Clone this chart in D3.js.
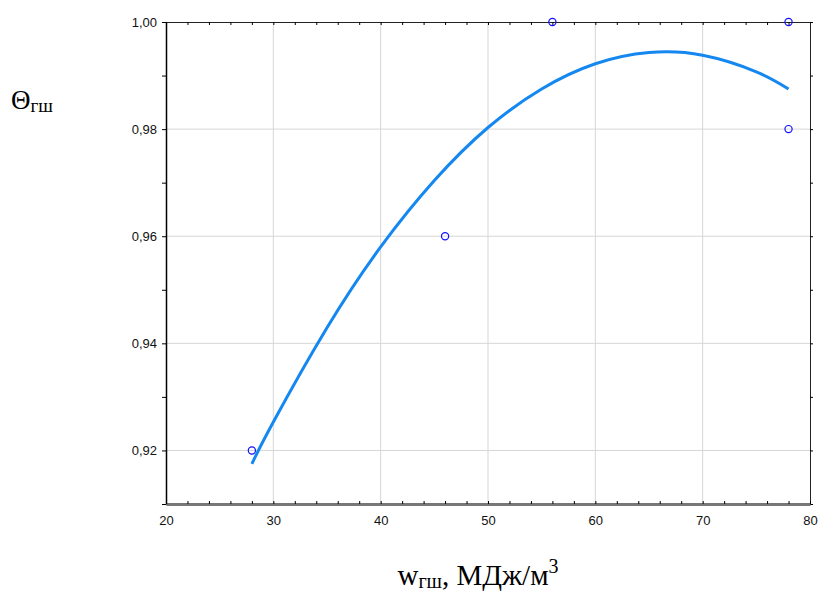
<!DOCTYPE html>
<html>
<head>
<meta charset="utf-8">
<script src="https://cdn.jsdelivr.net/npm/d3@7"></script>
<style>
  body { margin: 0; background: #fff; }
  .tick text { font-family: "Liberation Sans", Arial, sans-serif; font-size: 13px; fill: #111; }
  .title { font-family: "Liberation Serif", "Times New Roman", serif; fill: #000; }
</style>
</head>
<body>
<svg id="chart" width="818" height="592"></svg>
<script>
// observed points
const pointX = [28, 46, 56, 78, 78];
const pointY = [0.92, 0.96, 1.00, 1.00, 0.98];

// fitted curve
const curveX = [28, 30, 35, 40, 45, 50, 55, 60, 65, 70, 75, 78];
const curveY = [0.9175, 0.9253, 0.9429, 0.9580, 0.9704, 0.9803, 0.9875, 0.9922, 0.9943, 0.9938, 0.9907, 0.9875];

const xTicks = [20, 30, 40, 50, 60, 70, 80];
const yTicks = [0.92, 0.94, 0.96, 0.98, 1.00];

const margin = {left: 166, right: 8, top: 22, bottom: 88};
const width = 818, height = 592;

let svg = d3.select("#chart");

let x = d3.scaleLinear().domain([20, 80]).range([margin.left, width - margin.right]);
let y = d3.scaleLinear().domain([0.91, 1.00]).range([height - margin.bottom, margin.top]);

const fmt = d => d3.format(".2f")(d).replace(".", ",");

// gridlines
let grid = svg.append("g");
grid.selectAll(".gx")
    .data(xTicks.slice(1, -1))
    .join("line")
    .attr("x1", d => x(d)).attr("x2", d => x(d))
    .attr("y1", y(0.91)).attr("y2", y(1.00))
    .attr("stroke", "#d6d6d6").attr("stroke-width", 1);
grid.selectAll(".gy")
    .data(yTicks.slice(0, -1))
    .join("line")
    .attr("x1", x(20)).attr("x2", x(80))
    .attr("y1", d => y(d)).attr("y2", d => y(d))
    .attr("stroke", "#d6d6d6").attr("stroke-width", 1);

// minor tick values
let xMinor = d3.range(20, 80.1, 2);
let yMinor = d3.range(0.91, 1.001, 0.01);

// top edge, ticks pointing in
svg.append("g")
    .attr("transform", `translate(0,${y(1.00)})`)
    .call(d3.axisBottom(x).tickValues(xMinor).tickSize(3).tickFormat(""))
    .call(g => g.select(".domain").attr("stroke", "#222"));

// right edge, ticks pointing out
svg.append("g")
    .attr("transform", `translate(${x(80)},0)`)
    .call(d3.axisRight(y).tickValues(yMinor).tickSize(3).tickFormat(""))
    .call(g => g.select(".domain").attr("stroke", "#222"));

// bottom axis, ticks pointing in
svg.append("g")
    .attr("transform", `translate(0,${y(0.91)})`)
    .call(d3.axisTop(x).tickValues(xMinor).tickSize(3).tickSizeOuter(0).tickFormat(""))
    .call(g => g.select(".domain").attr("stroke", "#777").attr("stroke-width", 3));
svg.append("g")
    .attr("transform", `translate(0,${y(0.91)})`)
    .call(d3.axisBottom(x).tickValues(xTicks).tickSize(0).tickPadding(12))
    .call(g => g.select(".domain").remove());

// left axis, ticks pointing out
svg.append("g")
    .attr("transform", `translate(${x(20)},0)`)
    .call(d3.axisLeft(y).tickValues(yMinor).tickSize(4).tickSizeOuter(0).tickFormat(""))
    .call(g => g.select(".domain").attr("stroke", "#000").attr("stroke-width", 1.5));
svg.append("g")
    .attr("transform", `translate(${x(20)},0)`)
    .call(d3.axisLeft(y).tickValues(yTicks).tickSize(0).tickPadding(9).tickFormat(fmt))
    .call(g => g.select(".domain").remove());

// fitted curve
let curveData = curveX.map((d, i) => [d, curveY[i]]);
svg.append("path")
    .datum(curveData)
    .attr("fill", "none")
    .attr("stroke", "#1487f0")
    .attr("stroke-width", 3)
    .attr("d", d3.line().x(d => x(d[0])).y(d => y(d[1])).curve(d3.curveNatural));

// points
svg.append("g")
    .selectAll("circle")
    .data(pointX.map((d, i) => [d, pointY[i]]))
    .join("circle")
    .attr("cx", d => x(d[0]))
    .attr("cy", d => y(d[1]))
    .attr("r", 3.6)
    .attr("fill", "none")
    .attr("stroke", "#1010ff")
    .attr("stroke-width", 1.2);

// y title
let yt = svg.append("text").attr("class", "title").attr("x", 11).attr("y", 109);
yt.append("tspan").attr("font-size", 27).text("Θ");
yt.append("tspan").attr("font-size", 19).attr("dy", 3).text("гш");

// x title
let xt = svg.append("text").attr("class", "title")
    .attr("x", 478).attr("y", 585).attr("text-anchor", "middle");
xt.append("tspan").attr("font-size", 29).text("w");
xt.append("tspan").attr("font-size", 20).attr("dy", 3).text("гш");
xt.append("tspan").attr("font-size", 29).attr("dy", -3).text(", МДж/м");
xt.append("tspan").attr("font-size", 20).attr("dy", -12).text("3");
</script>
</body>
</html>
